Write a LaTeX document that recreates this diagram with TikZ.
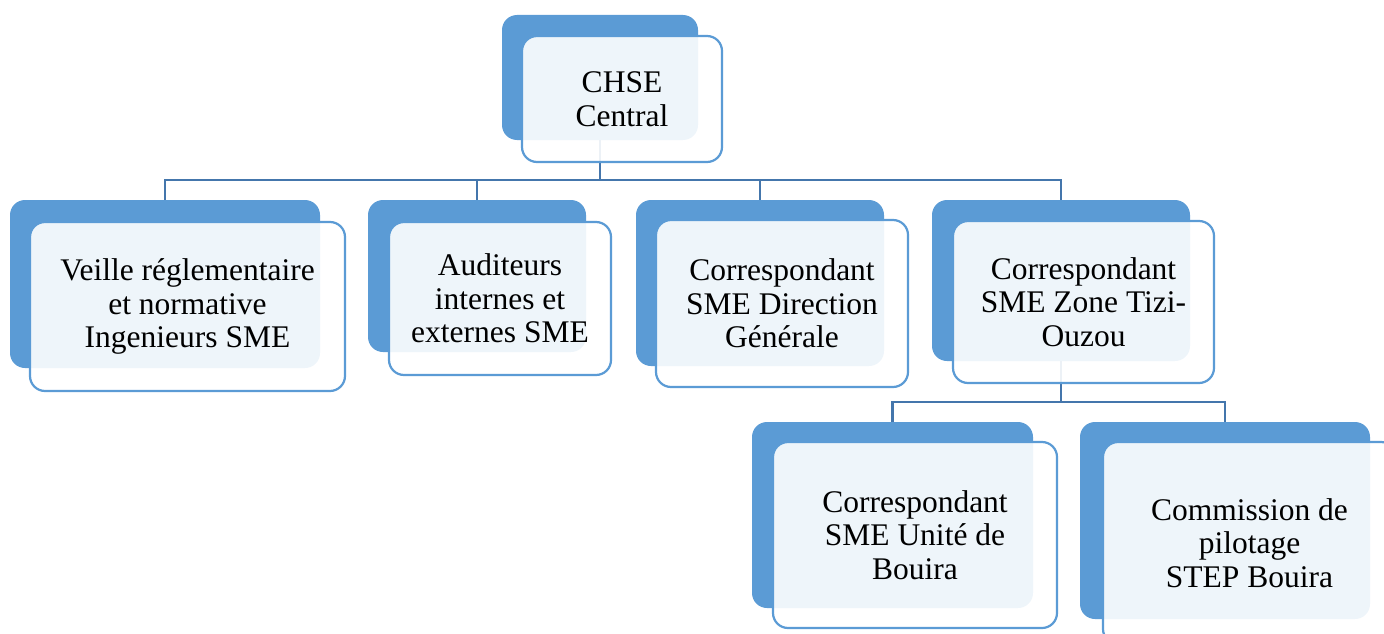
\documentclass[tikz,border=0pt]{standalone}
\usepackage{fontspec}
\setmainfont{Liberation Serif}
\definecolor{backblue}{RGB}{91,155,213}
\definecolor{edgeblue}{RGB}{91,155,213}
\definecolor{linkblue}{RGB}{68,118,172}
\begin{document}
\begin{tikzpicture}[x=1pt,y=-1pt,
  back/.style={rectangle,rounded corners=15pt,fill=backblue,draw=none,inner sep=0pt},
  front/.style={rectangle,rounded corners=15pt,fill=white,fill opacity=0.9,text opacity=1,
     draw=edgeblue,draw opacity=1,line width=2.2pt,inner sep=0pt,align=center,
     font=\fontsize{31.5}{33.5}\selectfont},
  conn/.style={draw=linkblue,line width=2.2pt}]
\useasboundingbox (0,0) rectangle (1384,634);
% back boxes
\node[back,minimum width=196pt,minimum height=125pt] (b0) at (600,77.5) {};
\node[back,minimum width=310pt,minimum height=168pt] (b1) at (165,284) {};
\node[back,minimum width=218pt,minimum height=152pt] (b2) at (477,276) {};
\node[back,minimum width=248pt,minimum height=166pt] (b3) at (760,283) {};
\node[back,minimum width=258pt,minimum height=161pt] (b4) at (1061,280.5) {};
\node[back,minimum width=281pt,minimum height=186pt] (b5) at (892.5,515) {};
\node[back,minimum width=290pt,minimum height=197pt] (b6) at (1225,520.5) {};
% connectors
\coordinate (j0) at (600,180);
\coordinate (j4) at (1061,402);
\draw[conn] (b0.south) -- (j0);
\draw[conn] (j0) -| (b1.north);
\draw[conn] (j0) -| (b2.north);
\draw[conn] (j0) -| (b3.north);
\draw[conn] (j0) -| (b4.north);
\draw[conn] (b4.south) -- (j4);
\draw[conn] (j4) -| (b5.north);
\draw[conn] (j4) -| (b6.north);
% front boxes
\node[front,minimum width=200pt,minimum height=126pt] (f0) at (622,99) {CHSE\\Central};
\node[front,minimum width=315pt,minimum height=169pt] (f1) at (187.5,306.5) {Veille réglementaire\\et normative\\Ingenieurs SME};
\node[front,minimum width=222pt,minimum height=153pt] (f2) at (500,298.5) {Auditeurs\\internes et\\externes SME};
\node[front,minimum width=252pt,minimum height=167pt] (f3) at (782,303.5) {Correspondant\\SME Direction\\Générale};
\node[front,minimum width=261pt,minimum height=162pt] (f4) at (1083.5,302) {Correspondant\\SME Zone Tizi-\\Ouzou};
\node[front,minimum width=284pt,minimum height=186pt] (f5) at (915,535) {Correspondant\\SME Unité de\\Bouira};
\node[front,minimum width=293pt,minimum height=202pt] (f6) at (1249.5,543) {Commission de\\pilotage\\STEP Bouira};
\end{tikzpicture}
\end{document}
